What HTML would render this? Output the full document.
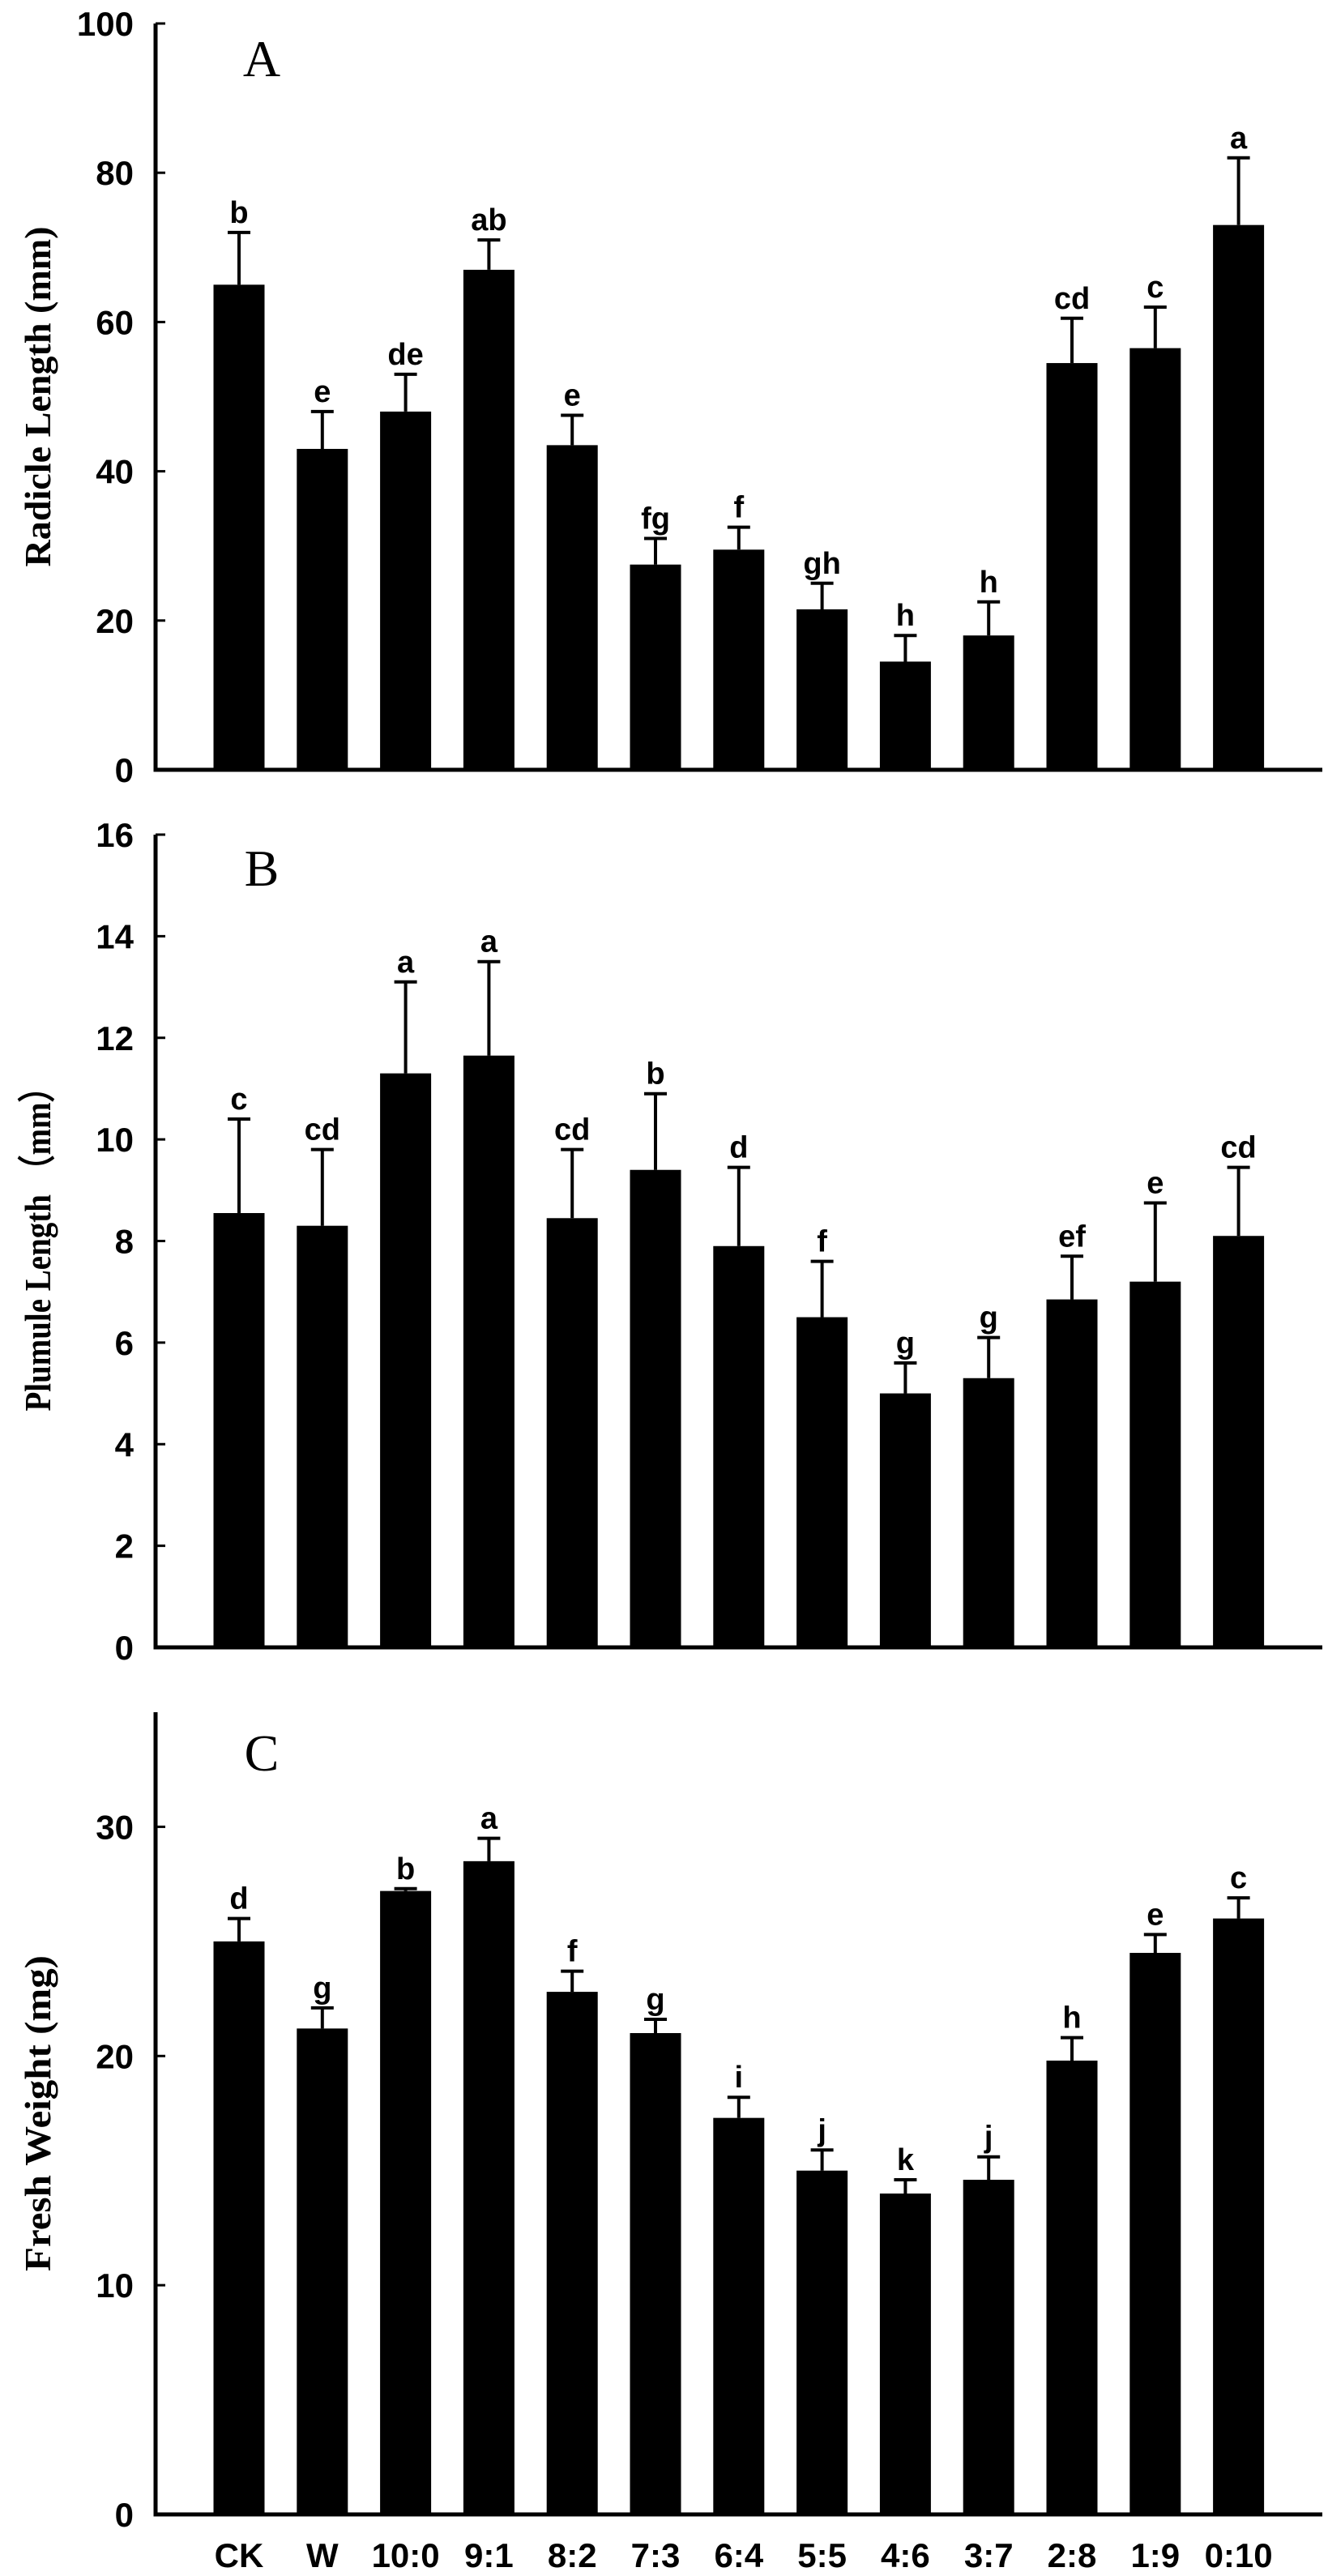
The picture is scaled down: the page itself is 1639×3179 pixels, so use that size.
<!DOCTYPE html>
<html><head><meta charset="utf-8"><style>
html,body{margin:0;padding:0;background:#fff;}
svg{display:block;}
.tk{font-family:"Liberation Sans",Arial,sans-serif;font-weight:bold;font-size:42px;fill:#000;}
.lt{font-family:"Liberation Sans",Arial,sans-serif;font-weight:bold;font-size:38px;fill:#000;}
.ti{font-family:"Liberation Serif",serif;font-weight:bold;font-size:46px;fill:#000;}
.pl{font-family:"Liberation Serif",serif;font-size:64px;fill:#000;}
</style></head><body>
<svg id="chart" width="1639" height="3179" viewBox="0 0 1639 3179" xmlns="http://www.w3.org/2000/svg"></svg>
<script>
const categories = ["CK","W","10:0","9:1","8:2","7:3","6:4","5:5","4:6","3:7","2:8","1:9","0:10"];
const radicleMeans = [65,43,48,67,43.5,27.5,29.5,21.5,14.5,18,54.5,56.5,73];
const radicleErrTop = [72,48,53,71,47.5,31,32.5,25,18,22.5,60.5,62,82];
const radicleLetters = ["b","e","de","ab","e","fg","f","gh","h","h","cd","c","a"];
const radicleTicks = [0,20,40,60,80,100];
const plumuleMeans = [8.55,8.3,11.3,11.65,8.45,9.4,7.9,6.5,5.0,5.3,6.85,7.2,8.1];
const plumuleErrTop = [10.4,9.8,13.1,13.5,9.8,10.9,9.45,7.6,5.6,6.1,7.7,8.75,9.45];
const plumuleLetters = ["c","cd","a","a","cd","b","d","f","g","g","ef","e","cd"];
const plumuleTicks = [0,2,4,6,8,10,12,14,16];
const weightMeans = [25,21.2,27.2,28.5,22.8,21,17.3,15,14,14.6,19.8,24.5,26];
const weightErrTop = [26,22.1,27.3,29.5,23.7,21.6,18.2,15.9,14.6,15.6,20.8,25.3,26.9];
const weightLetters = ["d","g","b","a","f","g","i","j","k","j","h","e","c"];
const weightTicks = [0,10,20,30];

const NS="http://www.w3.org/2000/svg";
const svg=document.getElementById('chart');
function mk(tag,attrs,parent,text){const e=document.createElementNS(NS,tag);for(const k in attrs)e.setAttribute(k,attrs[k]);if(text!==undefined)e.textContent=text;(parent||svg).appendChild(e);return e;}

const axisX=192, axisRight=1632, firstCenter=295, step=102.8, barW=63;
function xPos(i){return firstCenter+step*i;}

function panel(cfg){
  const g=mk('g',{});
  
  
  const y=v=>cfg.y0-(v-0)/(cfg.max)*(cfg.y0-cfg.yTop);
  cfg.means.forEach((m,i)=>{
    const cx=xPos(i);
    const r=mk('rect',{x:cx-barW/2,y:y(m),width:barW,height:cfg.y0-y(m),fill:'#000'},g);
    
    
    const e=mk('path',{d:`M${cx} ${y(m)}V${y(cfg.err[i])}M${cx-14} ${y(cfg.err[i])}H${cx+14}`,stroke:'#000','stroke-width':4,fill:'none'},g);
    
    
    const t=mk('text',{x:cx,y:y(cfg.err[i])-12,'text-anchor':'middle',class:'lt'},g,cfg.letters[i]);
    
    
  });
  const ax=mk('path',{d:`M${axisX} ${cfg.yTop}V${cfg.y0}H${axisRight}`,stroke:'#000','stroke-width':5,fill:'none'},g);
  
  
  cfg.ticks.forEach(v=>{
    if(v>0) mk('line',{x1:axisX,x2:axisX+12,y1:y(v),y2:y(v),stroke:'#000','stroke-width':3},g);
    const t=mk('text',{x:165,y:y(v)+15,'text-anchor':'end',class:'tk'},g,String(v));
    
    
  });
  const ym=(cfg.yTop+cfg.y0)/2;
  const ti=mk('text',{x:0,y:0,'text-anchor':'middle',class:'ti',textLength:cfg.titleLen,lengthAdjust:'spacingAndGlyphs',transform:`translate(62 ${ym}) rotate(-90)`},g,cfg.title);
  
  
  const pl=mk('text',{x:323,y:cfg.yTop+cfg.labelDy,'text-anchor':'middle',class:'pl'},g,cfg.letter);
  
  
}
panel({name:'panel-a-radicle',y0:950,yTop:29,max:100,means:radicleMeans,err:radicleErrTop,letters:radicleLetters,ticks:radicleTicks,title:'Radicle Length (mm)',titleLen:420,letter:'A',labelDy:65});
panel({name:'panel-b-plumule',y0:2033,yTop:1030,max:16,means:plumuleMeans,err:plumuleErrTop,letters:plumuleLetters,ticks:plumuleTicks,title:'Plumule Length （mm）',titleLen:420,letter:'B',labelDy:63});
panel({name:'panel-c-weight',y0:3103,yTop:2113,max:35,means:weightMeans,err:weightErrTop,letters:weightLetters,ticks:weightTicks,title:'Fresh Weight (mg)',titleLen:390,letter:'C',labelDy:72});
categories.forEach((c,i)=>{
  const t=mk('text',{x:xPos(i),y:3168,'text-anchor':'middle',class:'tk'},svg,c);
  
  
});
</script>
</body></html>
